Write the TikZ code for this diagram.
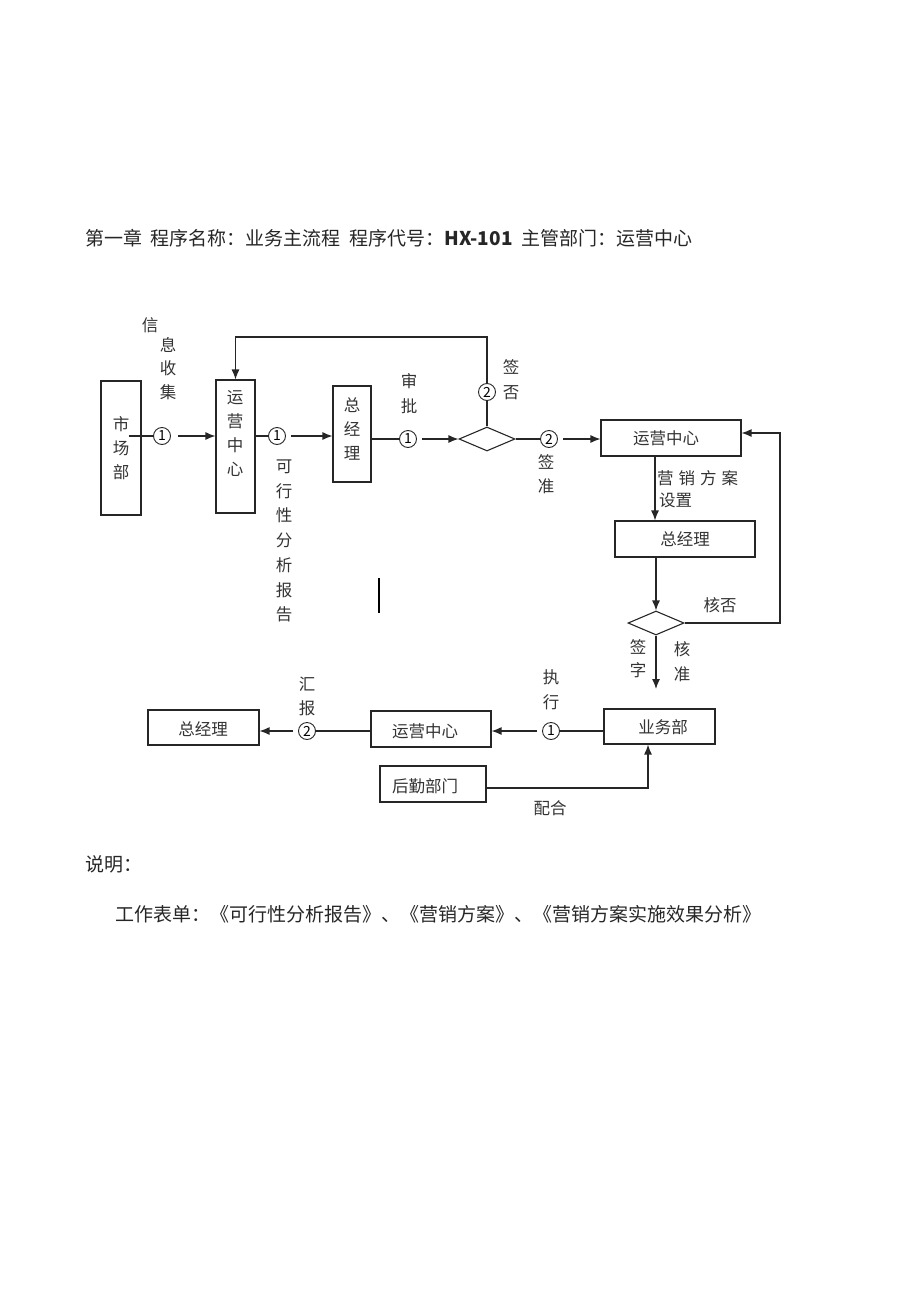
\documentclass[tikz,border=0pt]{standalone}
\usepackage{fontspec}
\setmainfont{Noto Sans CJK SC}
\usetikzlibrary{arrows.meta,shapes.geometric,calc}
\begin{document}
\begin{tikzpicture}[x=1pt,y=-1pt,
  box/.style={draw=black!85, line width=1.1pt, inner sep=0pt, rectangle},
  lbl/.style={inner sep=0pt, align=center, text=black!80, font=\fontsize{16.5}{24}\selectfont},
  num/.style={draw=black!85, circle, line width=0.9pt, minimum size=17pt, inner sep=0pt, font=\fontsize{14}{14}\selectfont},
  dia/.style={draw=black!85, diamond, line width=1.1pt, inner sep=0pt, minimum width=56pt, minimum height=24pt},
  ln/.style={line width=1.1pt, draw=black!85},
  arr/.style={line width=1.2pt, draw=black!85, -{Latex[length=10pt,width=8pt]}},
  txt/.style={inner sep=0pt, anchor=west, text=black!85}
]
\useasboundingbox (0,0) rectangle (920,1303);

% title
\node[txt, font=\fontsize{19}{19}\selectfont] (title) at (85,238) {第一章\hspace{0.45em}程序名称：业务主流程\hspace{0.45em}程序代号：\textbf{HX-101}\hspace{0.45em}主管部门：运营中心};

% boxes
\node[box, minimum width=40pt, minimum height=134pt] (sc) at (121,448) {};
\node[lbl, font=\fontsize{16.5}{24}\selectfont] (sct) at (121,448) {市\\场\\部};
\node[box, minimum width=39pt, minimum height=133pt] (yy) at (235.5,446.5) {};
\node[lbl, font=\fontsize{16.5}{24.3}\selectfont] (yyt) at (235,433.5) {运\\营\\中\\心};
\node[box, minimum width=38pt, minimum height=96pt] (zjl1) at (352,434) {};
\node[lbl, font=\fontsize{16.5}{24}\selectfont] (zjl1t) at (352,429) {总\\经\\理};
\node[dia] (d1) at (487,439) {};
\node[box, minimum width=140pt, minimum height=36pt] (yy2) at (671,438) {};
\node[lbl] (yy2t) at (666,438) {运营中心};
\node[box, minimum width=140pt, minimum height=36pt] (zjl2) at (685,539) {};
\node[lbl] (zjl2t) at (685,539) {总经理};
\node[dia] (d2) at (656,623) {};
\node[box, minimum width=111pt, minimum height=35pt] (ywb) at (659.5,726.5) {};
\node[lbl] (ywbt) at (663,727) {业务部};
\node[box, minimum width=120pt, minimum height=36pt] (yy3) at (431,729) {};
\node[lbl] (yy3t) at (425,731) {运营中心};
\node[box, minimum width=111pt, minimum height=35pt] (zjl3) at (203.5,727.5) {};
\node[lbl] (zjl3t) at (203,729) {总经理};
\node[box, minimum width=106pt, minimum height=36pt] (hq) at (433,784) {};
\node[lbl] (hqt) at (425,786) {后勤部门};

% circled numbers
\node[num] (c1a) at (162,436) {1};
\node[num] (c1b) at (277,436) {1};
\node[num] (c1c) at (408,439) {1};
\node[num] (c2a) at (487,392) {2};
\node[num] (c2b) at (549,439) {2};
\node[num] (c1d) at (551,731) {1};
\node[num] (c2c) at (307,731) {2};

% labels
\node[lbl] (l1) at (150,325) {信};
\node[lbl, font=\fontsize{16.5}{23.5}\selectfont] (l2) at (168,368.5) {息\\收\\集};
\node[lbl, font=\fontsize{16.5}{24.7}\selectfont] (l3) at (284,541) {可\\行\\性\\分\\析\\报\\告};
\node[lbl, font=\fontsize{16.5}{25}\selectfont] (l4) at (409,393.5) {审\\批};
\node[lbl, font=\fontsize{16.5}{25}\selectfont] (l5) at (511,379.5) {签\\否};
\node[lbl, font=\fontsize{16.5}{24}\selectfont] (l6) at (546,474) {签\\准};
\node[lbl, anchor=west] (l7) at (657,478) {营\hspace{0.3em}销\hspace{0.3em}方\hspace{0.3em}案};
\node[lbl, anchor=west] (l8) at (659,500) {设置};
\node[lbl] (l9) at (720,605) {核否};
\node[lbl, font=\fontsize{16.5}{23}\selectfont] (l10) at (638,658.5) {签\\字};
\node[lbl, font=\fontsize{16.5}{25}\selectfont] (l11) at (682,662) {核\\准};
\node[lbl, font=\fontsize{16.5}{25}\selectfont] (l12) at (551,689.5) {执\\行};
\node[lbl, font=\fontsize{16.5}{24}\selectfont] (l13) at (307,696) {汇\\报};
\node[lbl] (l14) at (550,808) {配合};

% coordinates
\coordinate (tl) at (235.5,337);
\coordinate (rc) at (780,623);
\coordinate (dend) at (656,689);
\coordinate (hqc) at (648,788);

% connectors
\draw[ln] ([xshift=-13pt]sc.east |- c1a) -- (c1a);
\draw[arr, shorten <=7pt] (c1a) -- (c1a -| yy.west);
\draw[ln] (yy.east |- c1b) -- (c1b);
\draw[arr, shorten <=5pt] (c1b) -- (c1b -| zjl1.west);
\draw[ln] (zjl1.east |- c1c) -- (c1c);
\draw[arr, shorten <=5pt] (c1c) -- (d1.west);
\draw[ln] (d1.north) -- (c2a);
\draw[arr] (c2a) |- (tl) -- (yy.north);
\draw[ln] (d1.east) -- (c2b);
\draw[arr, shorten <=5pt] (c2b) -- (c2b -| yy2.west);
\draw[arr] ([xshift=-16pt]yy2.south) -- ([xshift=-30pt]zjl2.north);
\draw[arr] (zjl2.south -| d2) -- (d2.north);
\draw[arr] (d2.east) -- (rc) |- ([yshift=5pt]yy2.east);
\draw[arr] (d2.south) -- (dend);
\draw[ln] (ywb.west |- c1d) -- (c1d);
\draw[arr, shorten <=5pt] (c1d) -- (c1d -| yy3.east);
\draw[ln] (yy3.west |- c2c) -- (c2c);
\draw[arr, shorten <=5pt] (c2c) -- (c2c -| zjl3.east);
\draw[arr] (hq.east |- hqc) -- (hqc) -- (hqc |- ywb.south);

% stray mark
\draw[line width=1.1pt] (379,578) -- (379,613);

% notes
\node[txt, font=\fontsize{19}{19}\selectfont] (sm) at (85,864) {说明：};
\node[txt, font=\fontsize{19}{19}\selectfont] (gz) at (115,914) {工作表单：《可行性分析报告》、《营销方案》、《营销方案实施效果分析》};
\end{tikzpicture}
\end{document}
